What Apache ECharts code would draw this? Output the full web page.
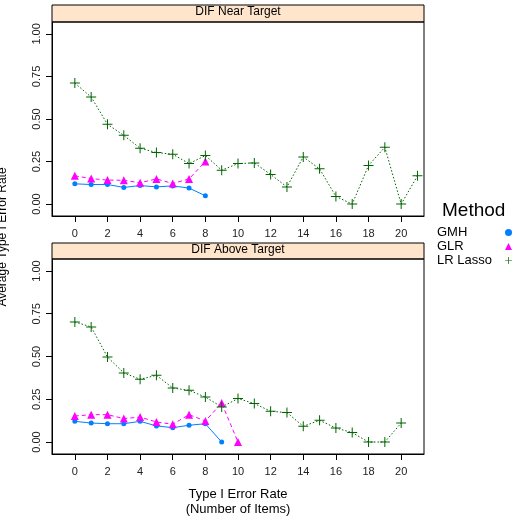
<!DOCTYPE html>
<html>
<head>
<meta charset="utf-8">
<script src="https://cdn.jsdelivr.net/npm/echarts@6/dist/echarts.min.js"></script>
<style>
  html, body { margin: 0; padding: 0; background: #fff; }
  #main { width: 518px; height: 521px; }
</style>
</head>
<body>
<div id="main"></div>
<script>
  // values, x = number of items
  const xTicks = [0, 2, 4, 6, 8, 10, 12, 14, 16, 18, 20]
  const yTicks = [0, 0.25, 0.5, 0.75, 1]
  const methods = ['GMH', 'GLR', 'LR Lasso']
  const panels = ['DIF Near Target', 'DIF Above Target']

  // DIF Near Target
  const nearGMH = [0.119, 0.115, 0.115, 0.098, 0.109, 0.101, 0.107, 0.094, 0.049]
  const nearGLR = [0.166, 0.150, 0.141, 0.140, 0.125, 0.148, 0.121, 0.148, 0.250]
  const nearLasso = [0.711, 0.629, 0.469, 0.404, 0.328, 0.303, 0.293, 0.238, 0.285, 0.199, 0.238,
    0.242, 0.174, 0.101, 0.277, 0.207, 0.045, 0.000, 0.227, 0.334, 0.000, 0.166]

  // DIF Above Target
  const aboveGMH = [0.121, 0.111, 0.107, 0.107, 0.121, 0.094, 0.084, 0.098, 0.107, 0.000]
  const aboveGLR = [0.152, 0.160, 0.160, 0.137, 0.146, 0.117, 0.104, 0.160, 0.123, 0.228, 0.000]
  const aboveLasso = [0.702, 0.673, 0.497, 0.404, 0.367, 0.390, 0.316, 0.302, 0.263, 0.205, 0.254,
    0.225, 0.180, 0.172, 0.092, 0.127, 0.082, 0.055, 0.000, 0.000, 0.111]

  const colors = ['#0080ff', '#ff00ff', '#006400']
  const plus = 'path://M4.5,0 H5.5 V4.5 H10 V5.5 H5.5 V10 H4.5 V5.5 H0 V4.5 H4.5 Z'
  const FONT = 'Liberation Sans, Arial, sans-serif'

  const chart = echarts.init(document.getElementById('main'))

  const pairs = arr => arr.map((v, i) => [i, v])

  const grids = [
    { left: 52, top: 22, width: 372, height: 194 },
    { left: 52, top: 259, width: 372, height: 195 }
  ].map(g => Object.assign(g, { show: true, borderColor: '#000', borderWidth: 1, backgroundColor: 'transparent' }))

  const xAxes = [0, 1].map(i => ({
    type: 'value', gridIndex: i, min: -1.4, max: 21.4, position: 'bottom',
    splitLine: { show: false },
    axisLine: { show: true, onZero: false, lineStyle: { color: '#000', width: 1 } },
    axisTick: { show: true, length: 6, lineStyle: { color: '#000', width: 1 }, customValues: xTicks },
    axisLabel: { color: '#222', fontFamily: FONT, fontSize: 11, margin: 12, customValues: xTicks }
  }))

  const yAxes = [0, 1].map(i => ({
    type: 'value', gridIndex: i, min: -0.07, max: 1.07, position: 'left',
    splitLine: { show: false },
    axisLine: { show: true, onZero: false, lineStyle: { color: '#000', width: 1 } },
    axisTick: { show: true, length: 6, lineStyle: { color: '#000', width: 1 }, customValues: yTicks },
    axisLabel: {
      color: '#222', fontFamily: FONT, fontSize: 11, margin: 10, rotate: 90,
      customValues: yTicks, formatter: v => v.toFixed(2)
    }
  }))

  const mk = (name, data, idx, gi) => ({
    name: name, type: 'line', xAxisIndex: gi, yAxisIndex: gi,
    data: pairs(data),
    symbol: idx === 0 ? 'circle' : (idx === 1 ? 'triangle' : plus),
    symbolSize: idx === 0 ? 5 : (idx === 1 ? 8 : 10),
    showSymbol: true,
    itemStyle: { color: colors[idx] },
    lineStyle: { color: colors[idx], width: 1, type: idx === 0 ? 'solid' : (idx === 1 ? [4, 3] : [1.5, 2]) },
    emphasis: { disabled: true },
    animation: false
  })

  const series = [
    mk(methods[0], nearGMH, 0, 0), mk(methods[1], nearGLR, 1, 0), mk(methods[2], nearLasso, 2, 0),
    mk(methods[0], aboveGMH, 0, 1), mk(methods[1], aboveGLR, 1, 1), mk(methods[2], aboveLasso, 2, 1)
  ]

  const option = {
    backgroundColor: '#fff',
    animation: false,
    title: [
      { text: panels[0], left: 238, top: 6, textAlign: 'center', padding: 0,
        textStyle: { fontFamily: FONT, fontSize: 12, fontWeight: 'normal', color: '#000' } },
      { text: panels[1], left: 238, top: 244, textAlign: 'center', padding: 0,
        textStyle: { fontFamily: FONT, fontSize: 12, fontWeight: 'normal', color: '#000' } },
      { text: 'Type I Error Rate\n(Number of Items)', left: 238, top: 487, textAlign: 'center', padding: 0,
        textStyle: { fontFamily: FONT, fontSize: 13, fontWeight: 'normal', color: '#000', lineHeight: 15 } },
      { text: 'Method', left: 442, top: 201, padding: 0,
        textStyle: { fontFamily: FONT, fontSize: 19, fontWeight: 'normal', color: '#000' } }
    ],
    legend: {
      orient: 'vertical', left: 437, top: 226, padding: 0,
      align: 'right', itemGap: 1, itemWidth: 7, itemHeight: 7,
      selectedMode: false,
      data: [
        { name: methods[0], icon: 'circle', itemStyle: { color: colors[0] } },
        { name: methods[1], icon: 'triangle', itemStyle: { color: colors[1] } },
        { name: methods[2], icon: plus, itemStyle: { color: colors[2] } }
      ],
      formatter: '{a|{name}}',
      textStyle: {
        fontFamily: FONT, fontSize: 13, color: '#000',
        rich: { a: { fontFamily: FONT, fontSize: 13, width: 63, align: 'left', lineHeight: 14 } }
      }
    },
    graphic: [
      { type: 'rect', shape: { x: 52, y: 5, width: 372, height: 17 }, style: { fill: '#ffe5cc', stroke: '#000', lineWidth: 1 }, z: -1 },
      { type: 'rect', shape: { x: 52, y: 243, width: 372, height: 16 }, style: { fill: '#ffe5cc', stroke: '#000', lineWidth: 1 }, z: -1 },
      { type: 'text', x: 3, y: 237, rotation: Math.PI / 2,
        style: { text: 'Average Type I Error Rate', fontFamily: FONT, fontSize: 12, fill: '#000', textAlign: 'center', textVerticalAlign: 'middle' } }
    ],
    grid: grids,
    xAxis: xAxes,
    yAxis: yAxes,
    series: series
  }

  chart.setOption(option)
</script>
</body>
</html>
